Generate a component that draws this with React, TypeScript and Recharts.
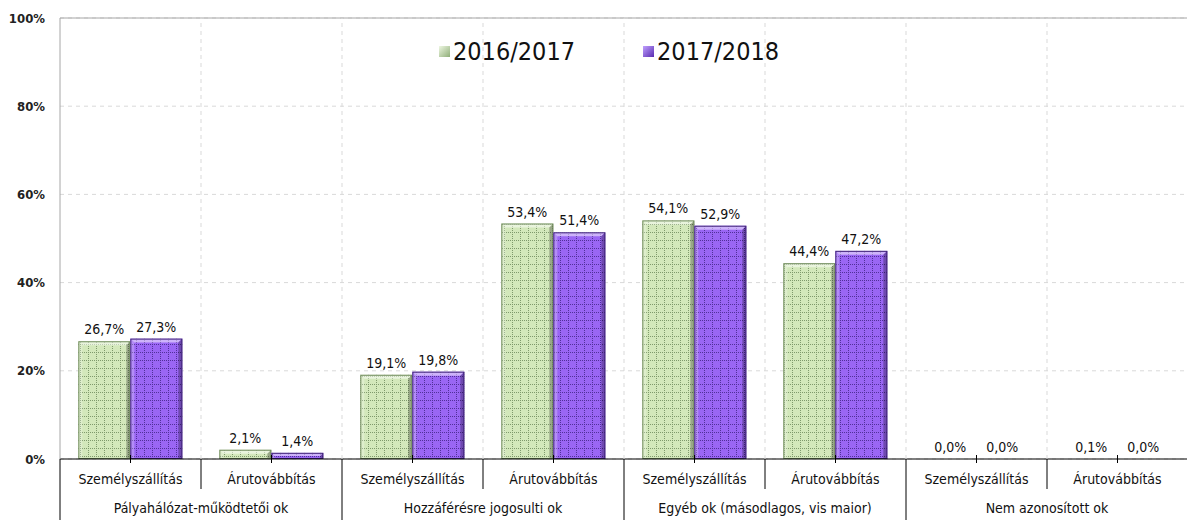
import React from "react";
import {
  Bar,
  BarChart,
  CartesianGrid,
  LabelList,
  ReferenceLine,
  XAxis,
  YAxis,
} from "recharts";

// Share of delay causes by responsible party, two seasons side by side.
const groups = [
  "Pályahálózat-működtetői ok",
  "Hozzáférésre jogosulti ok",
  "Egyéb ok (másodlagos, vis maior)",
  "Nem azonosított ok",
];
const services = ["Személyszállítás", "Árutovábbítás"];
const season1 = [26.7, 2.1, 19.1, 53.4, 54.1, 44.4, 0.0, 0.1];
const season2 = [27.3, 1.4, 19.8, 51.4, 52.9, 47.2, 0.0, 0.0];
const seasonNames = ["2016/2017", "2017/2018"];
const yTicks = [0, 20, 40, 60, 80, 100];

const data = season1.map((v, i) => ({
  service: services[i % 2],
  group: groups[Math.floor(i / 2)],
  a: v,
  b: season2[i],
}));

const W = 1188;
const H = 520;
const TOP = 18;
const AXIS_W = 60;
const XAXIS_H = 61;
const PLOT_H = H - TOP - XAXIS_H;
const BAND = (W - AXIS_W) / data.length;
const FONT = "'DejaVu Sans Condensed', 'DejaVu Sans', sans-serif";

const fmt = (v: number) => v.toFixed(1).replace(".", ",") + "%";

function BevelBar(props: any) {
  const { x, y, width: w, height: h, pat, edge } = props;
  if (!h || h < 0.5) return null;
  const b = Math.min(4, h / 2);
  return (
    <g>
      <rect x={x} y={y} width={w} height={h} fill={`url(#${pat})`} />
      <polygon
        points={`${x},${y} ${x + w},${y} ${x + w - b},${y + b} ${x + b},${y + b}`}
        fill="#fff"
        fillOpacity={0.5}
      />
      <polygon
        points={`${x},${y} ${x + b},${y + b} ${x + b},${y + h} ${x},${y + h}`}
        fill="#fff"
        fillOpacity={0.25}
      />
      <polygon
        points={`${x + w},${y} ${x + w},${y + h} ${x + w - b},${y + h} ${x + w - b},${y + b}`}
        fill="#000"
        fillOpacity={0.28}
      />
      <rect x={x + 0.5} y={y + 0.5} width={w - 1} height={h - 1} fill="none" stroke={edge} strokeWidth={1} />
    </g>
  );
}

function ServiceTick(props: any) {
  const { x, y, payload, index } = props;
  const left = x - BAND / 2;
  const groupStart = index % 2 === 0;
  return (
    <g>
      <line x1={x} x2={x} y1={y - 4} y2={y + 4} stroke="#000" />
      <line x1={left} x2={left} y1={y} y2={groupStart ? y + XAXIS_H : y + 30} stroke="#000" />
      {index > 0 && (
        <line x1={left} x2={left} y1={y} y2={y - PLOT_H} stroke="#d9d9d9" strokeDasharray="4 4" />
      )}
      <text x={x} y={y + 25} textAnchor="middle" fontSize={14} fill="#111" fontFamily={FONT}>
        {payload.value}
      </text>
      {!groupStart && (
        <text x={left} y={y + 54} textAnchor="middle" fontSize={14} fill="#111" fontFamily={FONT}>
          {data[index].group}
        </text>
      )}
    </g>
  );
}

function SeasonLegend() {
  const items = [
    { name: seasonNames[0], from: "#eef7e2", to: "#8fae78" },
    { name: seasonNames[1], from: "#c0a0ff", to: "#5a2cb0" },
  ];
  return (
    <div
      style={{
        position: "absolute",
        left: 439,
        top: 37,
        display: "flex",
        gap: 68,
        fontFamily: FONT,
        fontSize: 25,
        color: "#111",
      }}
    >
      {items.map((it) => (
        <div key={it.name} style={{ display: "flex", alignItems: "center", gap: 3 }}>
          <div
            style={{
              width: 11,
              height: 11,
              background: `linear-gradient(135deg, ${it.from}, ${it.to})`,
            }}
          />
          <span>{it.name}</span>
        </div>
      ))}
    </div>
  );
}

export default function App() {
  return (
    <div style={{ position: "relative", width: 1187, height: H, overflow: "hidden", background: "#fff" }}>
      <style>{"body{margin:0}"}</style>
      <BarChart
        width={W}
        height={H}
        data={data}
        margin={{ top: TOP, right: 0, bottom: 0, left: 0 }}
        barCategoryGap="13%"
        barGap={0}
      >
        <defs>
          <pattern id="patGreen" width={8} height={8} patternUnits="userSpaceOnUse">
            <rect width={8} height={8} fill="#d3e8bb" />
            <path d="M0 0.5H8M0.5 0V8" stroke="#7f9a6c" strokeWidth={1} strokeDasharray="1 1" />
          </pattern>
          <pattern id="patPurple" width={8} height={8} patternUnits="userSpaceOnUse">
            <rect width={8} height={8} fill="#9a66f4" />
            <path d="M0 0.5H8M0.5 0V8" stroke="#51309a" strokeWidth={1} strokeDasharray="1 1" />
          </pattern>
        </defs>
        <CartesianGrid vertical={false} stroke="#d9d9d9" strokeDasharray="4 4" />
        <XAxis
          dataKey="service"
          height={XAXIS_H}
          interval={0}
          axisLine={{ stroke: "#000" }}
          tickLine={false}
          tickSize={0}
          tickMargin={0}
          tick={<ServiceTick />}
        />
        <YAxis
          width={AXIS_W}
          domain={[0, 100]}
          ticks={yTicks}
          tickFormatter={(v: number) => `${v}%`}
          axisLine={{ stroke: "#a6a6a6" }}
          tickLine={false}
          tickSize={0}
          tickMargin={15}
          tick={{ fontSize: 13, fill: "#222", fontFamily: FONT, fontWeight: "bold" }}
        />
        <ReferenceLine y={100} stroke="#a6a6a6" />
        <Bar
          dataKey="a"
          name={seasonNames[0]}
          isAnimationActive={false}
          shape={(p: any) => <BevelBar {...p} pat="patGreen" edge="#6f8a5c" />}
        >
          <LabelList
            dataKey="a"
            position="top"
            offset={7}
            formatter={(v: any) => fmt(Number(v))}
            style={{ fontSize: 14, fill: "#111", fontFamily: FONT }}
          />
        </Bar>
        <Bar
          dataKey="b"
          name={seasonNames[1]}
          isAnimationActive={false}
          shape={(p: any) => <BevelBar {...p} pat="patPurple" edge="#3f2278" />}
        >
          <LabelList
            dataKey="b"
            position="top"
            offset={7}
            formatter={(v: any) => fmt(Number(v))}
            style={{ fontSize: 14, fill: "#111", fontFamily: FONT }}
          />
        </Bar>
      </BarChart>
      <SeasonLegend />
    </div>
  );
}
